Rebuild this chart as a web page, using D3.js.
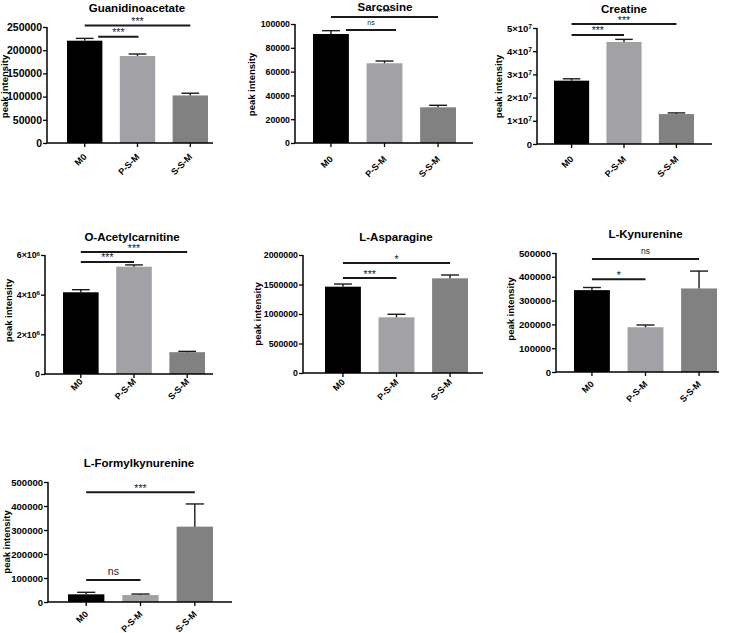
<!DOCTYPE html>
<html lang="en">
<head>
  <meta charset="UTF-8">
  <title>Peak intensity by group</title>
  <script src="https://d3js.org/d3.v7.min.js"></script>
  <style>
    body {
      margin: 0;
      background: #fff;
    }
    svg text {
      font-family: "Liberation Sans", Arial, sans-serif;
    }
  </style>
</head>
<body>
<svg width="738" height="633"></svg>

<script>
// ---- data ----
const titles = ["Guanidinoacetate", "Sarcosine", "Creatine", "O-Acetylcarnitine",
                "L-Asparagine", "L-Kynurenine", "L-Formylkynurenine"];
const groups = ["M0", "P-S-M", "S-S-M"];
const means = [
  [220500, 187500, 102500],
  [91600, 67000, 30000],
  [27.3e6, 44.0e6, 12.9e6],
  [4.12e6, 5.41e6, 1.10e6],
  [1463000, 944000, 1605000],
  [344000, 188000, 351000],
  [32000, 29000, 314000]
];
const errors = [
  [5000, 4300, 4800],
  [2800, 1900, 1700],
  [0.8e6, 1.1e6, 0.5e6],
  [0.13e6, 0.09e6, 0.04e6],
  [45000, 51000, 56000],
  [11000, 9500, 73000],
  [8400, 4100, 94500]
];
const yMax = [250000, 100000, 5e7, 6e6, 2e6, 5e5, 5e5];
const yStep = [50000, 20000, 1e7, 2e6, 5e5, 1e5, 1e5];
const sciExp = [null, null, 7, 6, null, null, null];
// [from, to, label, bracket height in data units]
const comparisons = [
  [[0, 2, "***", 253000], [0, 1, "***", 229000]],
  [[0, 2, "***", 105900], [0, 1, "ns", 95000]],
  [[0, 2, "***", 51.7e6], [0, 1, "***", 47.0e6]],
  [[0, 2, "***", 6.15e6], [0, 1, "***", 5.65e6]],
  [[0, 2, "*", 1.864e6], [0, 1, "***", 1.61e6]],
  [[0, 2, "ns", 474800], [0, 1, "*", 389500]],
  [[0, 2, "***", 457000], [0, 1, "ns", 91700]]
];

const colors = ["#000000", "#a2a2a6", "#818181"];

// ---- panel layout (pixels) ----
const layout = [
  {ax: 47,  b0: 67,  b1: 208, xe: 213, yt: 27,  yb: 143, tx: 137,   ty: 12,  lx: 7.5,   ly: 86.5, tickFs: 10.5, catDy: 14.5, nsFs: 7,    shift: [13.5, 1]},
  {ax: 295, b0: 313, b1: 456, xe: 473, yt: 24,  yb: 143, tx: 385,   ty: 11,  lx: 255,   ly: 84.5, tickFs: 8.8, catDy: 16.6, nsFs: 7,    shift: [15, 11.5]},
  {ax: 537, b0: 554, b1: 694, xe: 712, yt: 28,  yb: 144, tx: 624,   ty: 13,  lx: 502.4, ly: 86.5, tickFs: 9.5, catDy: 15.6, nsFs: 7,    shift: [0, 0]},
  {ax: 45,  b0: 63,  b1: 205, xe: 213, yt: 255, yb: 374, tx: 132,   ty: 241, lx: 12,    ly: 310.5, tickFs: 8.8, catDy: 8.3, nsFs: 7,    shift: [0, 0]},
  {ax: 303, b0: 325, b1: 468, xe: 483, yt: 255, yb: 373, tx: 396,   ty: 241, lx: 261.4, ly: 314,  tickFs: 8.8, catDy: 9.6,  nsFs: 7,    shift: [0, 0]},
  {ax: 556, b0: 574, b1: 717, xe: 719, yt: 253, yb: 372, tx: 645.5, ty: 238, lx: 514.4, ly: 309,  tickFs: 9.6, catDy: 12.6, nsFs: 8.5,  shift: [0, 0]},
  {ax: 48,  b0: 68,  b1: 213, xe: 232, yt: 482, yb: 602, tx: 139,   ty: 467, lx: 10,    ly: 542,  tickFs: 9.5, catDy: 12.6, nsFs: 10.5, shift: [0, 0]}
];

const svg = d3.select("svg");

function drawPanel(i) {
  const L = layout[i];
  const g = svg.append("g");

  const x = d3.scaleBand().domain(groups).range([L.b0, L.b1])
    .paddingInner(0.33).paddingOuter(0);
  const y = d3.scaleLinear().domain([0, yMax[i]]).range([L.yb, L.yt]);
  const ticks = d3.range(0, yMax[i] + yStep[i] / 2, yStep[i]);

  const rows = groups.map((k, j) => ({key: k, mean: means[i][j], err: errors[i][j], color: colors[j]}));

  // bars
  g.selectAll(".bar").data(rows).enter().append("rect")
    .attr("class", "bar")
    .attr("x", d => x(d.key))
    .attr("y", d => y(d.mean))
    .attr("width", x.bandwidth())
    .attr("height", d => y(0) - y(d.mean))
    .attr("fill", d => d.color);

  // error bars (upper only)
  const cap = x.bandwidth() * 0.25;
  const eb = g.selectAll(".err").data(rows).enter().append("g").attr("class", "err")
    .attr("stroke", "#1a1a1a").attr("stroke-width", 1.4);
  eb.append("line")
    .attr("x1", d => x(d.key) + x.bandwidth() / 2)
    .attr("x2", d => x(d.key) + x.bandwidth() / 2)
    .attr("y1", d => y(d.mean))
    .attr("y2", d => y(d.mean + d.err));
  eb.append("line")
    .attr("x1", d => x(d.key) + x.bandwidth() / 2 - cap)
    .attr("x2", d => x(d.key) + x.bandwidth() / 2 + cap)
    .attr("y1", d => y(d.mean + d.err))
    .attr("y2", d => y(d.mean + d.err));

  // y axis
  const yAxis = d3.axisLeft(y).tickValues(ticks).tickSize(4).tickSizeOuter(0).tickPadding(1)
    .tickFormat(v => sciExp[i] ? "" : d3.format("d")(v));
  const ya = g.append("g").attr("transform", `translate(${L.ax},0)`).call(yAxis);
  ya.select(".domain").attr("stroke", "#000").attr("stroke-width", 1.5)
    .attr("d", `M0,${L.yb}V${L.yt}`);
  ya.selectAll(".tick line").attr("stroke", "#000").attr("stroke-width", 1.3);
  ya.selectAll(".tick text")
    .attr("font-size", L.tickFs).attr("font-weight", "bold").attr("fill", "#000")
    .attr("font-family", "Liberation Sans, Arial, sans-serif");
  if (sciExp[i]) {
    ya.selectAll(".tick text").each(function (v) {
      const t = d3.select(this);
      if (v === 0) { t.text("0"); return; }
      t.append("tspan").text(`${v / Math.pow(10, sciExp[i])}×10`);
      t.append("tspan").attr("dy", "-0.45em").attr("font-size", "70%").text(sciExp[i]);
    });
  }

  // x axis
  const xa = g.append("g").attr("transform", `translate(0,${L.yb})`)
    .call(d3.axisBottom(x).tickSize(4).tickSizeOuter(0));
  xa.select(".domain").remove();
  xa.append("line").attr("x1", L.ax).attr("x2", L.xe)
    .attr("stroke", "#000").attr("stroke-width", 1.5);
  xa.selectAll(".tick line").attr("stroke", "#000").attr("stroke-width", 1.3);
  xa.selectAll(".tick text")
    .attr("y", 0).attr("dy", 0)
    .attr("transform", `translate(2.5,${L.catDy}) rotate(-45)`)
    .attr("text-anchor", "end")
    .attr("font-size", 9).attr("font-weight", "bold").attr("fill", "#000")
    .attr("font-family", "Liberation Sans, Arial, sans-serif");

  // y label
  g.append("text")
    .attr("transform", `translate(${L.lx},${L.ly}) rotate(-90)`)
    .attr("text-anchor", "middle")
    .attr("font-size", 9.5).attr("font-weight", "bold")
    .text("peak intensity");

  // title
  g.append("text")
    .attr("x", L.tx).attr("y", L.ty)
    .attr("text-anchor", "middle")
    .attr("font-size", 11.5).attr("font-weight", "bold")
    .text(titles[i]);

  // significance brackets
  comparisons[i].forEach((c, k) => {
    const sx = k === 1 ? L.shift : [0, 0];
    const x1 = x(groups[c[0]]) + x.bandwidth() / 2 + sx[0];
    const x2 = x(groups[c[1]]) + x.bandwidth() / 2 + sx[1];
    const ly = y(c[3]);
    g.append("line")
      .attr("x1", x1).attr("x2", x2).attr("y1", ly).attr("y2", ly)
      .attr("stroke", "#1a1a1a").attr("stroke-width", 2);
    const isNs = c[2] === "ns";
    g.append("text")
      .attr("x", (x1 + x2) / 2)
      .attr("y", isNs ? ly - 4.5 : ly - 0.5)
      .attr("text-anchor", "middle")
      .attr("font-size", isNs ? L.nsFs : 10.5)
      .attr("fill", "#1a1a1a")
      .text(c[2]);
  });
}

titles.forEach((t, i) => drawPanel(i));
</script>
</body>
</html>
